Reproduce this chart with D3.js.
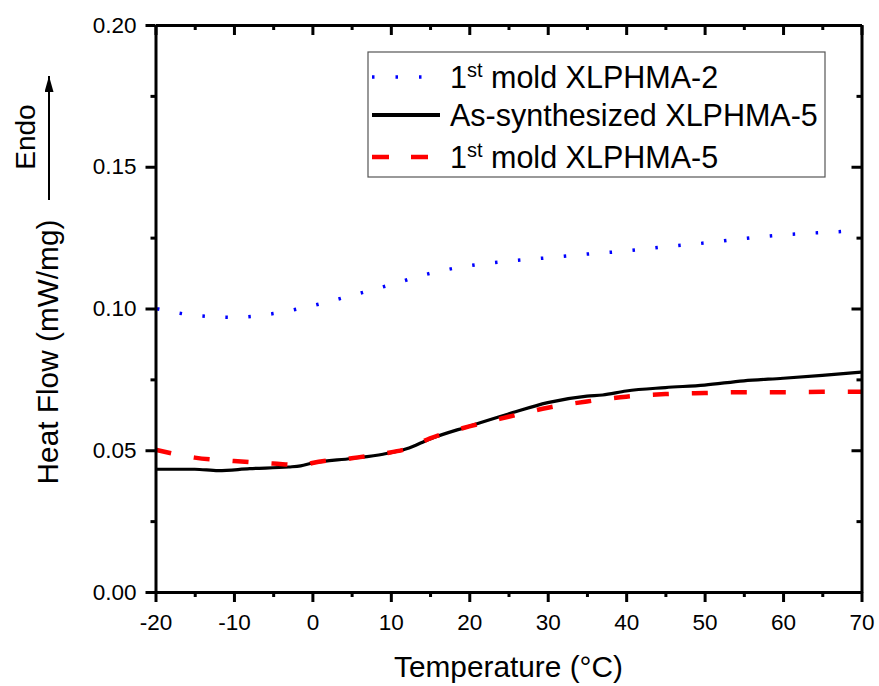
<!DOCTYPE html>
<html>
<head>
<meta charset="utf-8">
<title>DSC</title>
<script src="https://cdn.jsdelivr.net/npm/d3@7"></script>
<style>
  body { margin: 0; background: #fff; }
  text { font-family: "Liberation Sans", Arial, sans-serif; fill: #000; }
</style>
</head>
<body>
<script>
// temperatures (°C) and heat flow (mW/mg)
var tempXL2 = [-20, -15, -10, -5, 0, 5, 10, 15, 20, 25, 30, 35, 40, 45, 50, 55, 60, 65, 70];
var flowXL2 = [0.1000, 0.0976, 0.0969, 0.0982, 0.1010, 0.1046, 0.1084, 0.1124, 0.1151, 0.1167, 0.1179, 0.1192, 0.1203, 0.1218, 0.1231, 0.1247, 0.1260, 0.1268, 0.1275];

var tempAs5 = [-20, -15, -12, -8, -3, -1.5, 0, 5, 9, 12, 15, 20, 25, 30, 35, 37, 40, 45, 50, 55, 60, 65, 70];
var flowAs5 = [0.0433, 0.0433, 0.0428, 0.0435, 0.0441, 0.0445, 0.0455, 0.0471, 0.0486, 0.0505, 0.0540, 0.0585, 0.0628, 0.0668, 0.0691, 0.0695, 0.0709, 0.0721, 0.0730, 0.0745, 0.0754, 0.0764, 0.0776];

var tempXL5 = [-20, -15, -10, -5, -1, 0, 5, 9, 12, 15, 20, 25, 30, 35, 40, 45, 50, 55, 60, 65, 70];
var flowXL5 = [0.0502, 0.0474, 0.0462, 0.0453, 0.0447, 0.0455, 0.0472, 0.0488, 0.0505, 0.0542, 0.0584, 0.0618, 0.0650, 0.0672, 0.0689, 0.0698, 0.0702, 0.0705, 0.0705, 0.0706, 0.0706];

var xTicks = [-20, -10, 0, 10, 20, 30, 40, 50, 60, 70];
var yTicks = [0.00, 0.05, 0.10, 0.15, 0.20];

var series = [
    { name: "1st mold XLPHMA-2", t: tempXL2, v: flowXL2, color: "#0000ff", width: 3.5, dash: "2.5,20.5", offset: -1.5 },
    { name: "As-synthesized XLPHMA-5", t: tempAs5, v: flowAs5, color: "#000000", width: 3.2, dash: null, offset: 0 },
    { name: "1st mold XLPHMA-5", t: tempXL5, v: flowXL5, color: "#ff0000", width: 4.5, dash: "16,23", offset: 0 }
];

var svgWidth = 879, svgHeight = 686;
var margin = { top: 25, right: 17.5, bottom: 94, left: 155.5 };
var width = svgWidth - margin.left - margin.right;
var height = svgHeight - margin.top - margin.bottom;

var svg = d3.select("body").append("svg")
    .attr("width", svgWidth)
    .attr("height", svgHeight);

var x = d3.scaleLinear().domain([-20, 70]).range([0, width]);
var y = d3.scaleLinear().domain([0, 0.20]).range([height, 0]);

var g = svg.append("g").attr("transform", "translate(" + margin.left + "," + margin.top + ")");

g.append("clipPath").attr("id", "clip")
    .append("rect").attr("width", width).attr("height", height);

// curves
var line = d3.line()
    .x(function (d) { return x(d[0]); })
    .y(function (d) { return y(d[1]); })
    .curve(d3.curveMonotoneX);

series.forEach(function (s) {
    var pts = s.t.map(function (t, i) { return [t, s.v[i]]; });
    g.append("path")
        .datum(pts)
        .attr("clip-path", "url(#clip)")
        .attr("fill", "none")
        .attr("stroke", s.color)
        .attr("stroke-width", s.width)
        .attr("stroke-dasharray", s.dash)
        .attr("stroke-dashoffset", s.offset)
        .attr("d", line);
});

// axes
var minorX = d3.range(-15, 70, 10);
var minorY = d3.range(0.025, 0.2, 0.05);
var fmtY = d3.format(".2f");

function styleAxis(sel) {
    sel.select(".domain").attr("stroke-width", 3).attr("stroke", "#000");
    sel.selectAll(".tick line").attr("stroke-width", 3).attr("stroke", "#000");
    sel.selectAll("text").style("font-size", "22.5px").style("font-family", "Liberation Sans, Arial, sans-serif");
}
function minorAxis(sel) {
    sel.select(".domain").remove();
    sel.selectAll("line").attr("stroke-width", 3);
}

var xBottom = g.append("g").attr("transform", "translate(0," + height + ")")
    .call(d3.axisBottom(x).tickValues(xTicks).tickSize(10).tickSizeOuter(0).tickPadding(12)
        .tickFormat(function (d) { return String(d); }));
styleAxis(xBottom);
g.append("g").attr("transform", "translate(0," + height + ")")
    .call(d3.axisBottom(x).tickValues(minorX).tickSize(5).tickFormat(""))
    .call(minorAxis);

var yLeft = g.append("g")
    .call(d3.axisLeft(y).tickValues(yTicks).tickSize(10).tickSizeOuter(0).tickPadding(9).tickFormat(fmtY));
styleAxis(yLeft);
g.append("g")
    .call(d3.axisLeft(y).tickValues(minorY).tickSize(5).tickFormat(""))
    .call(minorAxis);

// top and right, ticks inward
var xTop = g.append("g")
    .call(d3.axisBottom(x).tickValues(xTicks).tickSize(10).tickSizeOuter(0).tickFormat(""));
styleAxis(xTop);
g.append("g")
    .call(d3.axisBottom(x).tickValues(minorX).tickSize(5).tickFormat(""))
    .call(minorAxis);

var yRight = g.append("g").attr("transform", "translate(" + width + ",0)")
    .call(d3.axisLeft(y).tickValues(yTicks).tickSize(10).tickSizeOuter(0).tickFormat(""));
styleAxis(yRight);
g.append("g").attr("transform", "translate(" + width + ",0)")
    .call(d3.axisLeft(y).tickValues(minorY).tickSize(5).tickFormat(""))
    .call(minorAxis);

// axis titles
svg.append("text")
    .attr("x", margin.left + width / 2)
    .attr("y", 677)
    .attr("text-anchor", "middle")
    .style("font-size", "29.8px")
    .text("Temperature (°C)");

svg.append("text")
    .attr("transform", "translate(58,352) rotate(-90)")
    .attr("text-anchor", "middle")
    .style("font-size", "29.8px")
    .text("Heat Flow (mW/mg)");

// Endo arrow
svg.append("text")
    .attr("transform", "translate(35,137) rotate(-90)")
    .attr("text-anchor", "middle")
    .style("font-size", "28px")
    .text("Endo");

svg.append("defs").append("marker")
    .attr("id", "head")
    .attr("viewBox", "0 0 10 10")
    .attr("refX", 10).attr("refY", 5)
    .attr("markerWidth", 16).attr("markerHeight", 9)
    .attr("markerUnits", "userSpaceOnUse")
    .attr("preserveAspectRatio", "none")
    .attr("orient", "auto")
    .append("path").attr("d", "M0,0 L10,5 L0,10 Z").attr("fill", "#000");

svg.append("line")
    .attr("x1", 49).attr("y1", 200)
    .attr("x2", 49).attr("y2", 76)
    .attr("stroke", "#000").attr("stroke-width", 2)
    .attr("marker-end", "url(#head)");

// legend
var legend = svg.append("g").attr("transform", "translate(368,52)");
legend.append("rect")
    .attr("width", 457).attr("height", 125)
    .attr("fill", "#fff").attr("stroke", "#555").attr("stroke-width", 1.2);

var rowY = [25, 63, 105];
series.forEach(function (s, i) {
    legend.append("line")
        .attr("x1", 4).attr("x2", s.dash ? 60 : 72)
        .attr("y1", rowY[i]).attr("y2", rowY[i])
        .attr("stroke", s.color)
        .attr("stroke-width", i == 1 ? 4 : s.width)
        .attr("stroke-dasharray", i == 0 ? "2.5,21" : (s.dash ? "17,22" : null));
    var t = legend.append("text")
        .attr("x", 82).attr("y", rowY[i] + 10.5)
        .style("font-size", "30.5px");
    if (s.name.indexOf("1st") == 0) {
        t.append("tspan").text("1");
        t.append("tspan").attr("dy", -11).style("font-size", "20px").text("st");
        t.append("tspan").attr("dy", 11).text(s.name.slice(3));
    } else {
        t.text(s.name);
    }
});
</script>
</body>
</html>
